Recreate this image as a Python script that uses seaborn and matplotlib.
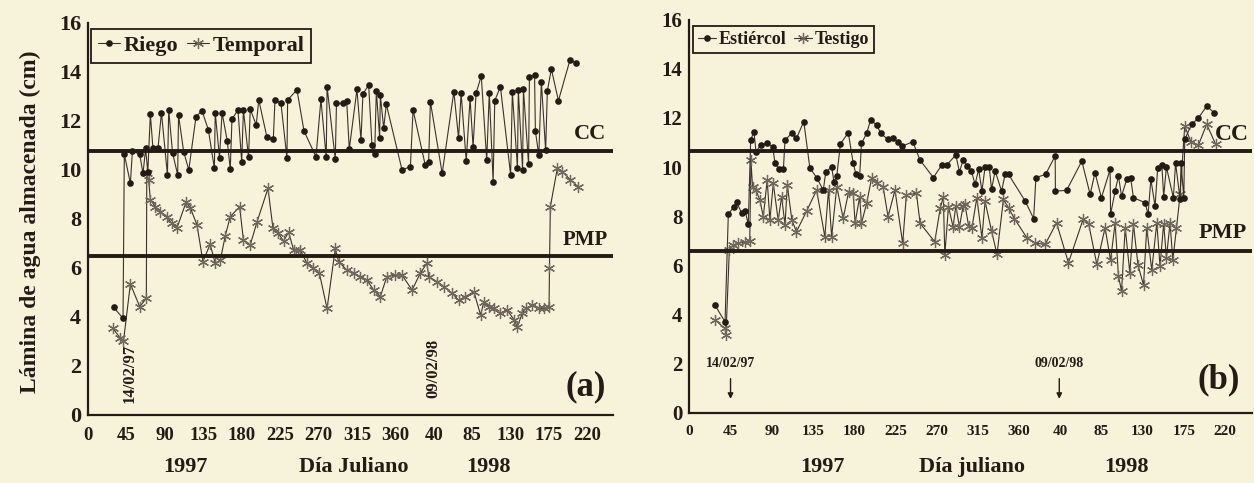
import matplotlib
matplotlib.use("Agg")
import matplotlib.pyplot as plt
import pandas as pd
import seaborn as sns

# ---------------- data ----------------
riego_dia = [30, 41, 42.5, 49.6, 52, 60.5, 64.4, 67.5, 70, 73, 76, 82, 86, 93, 94.5, 99, 105, 106,
             112, 118, 126.5, 133.5, 141, 148, 149, 154, 157, 163, 166.6, 168.6, 175.6, 180, 182,
             188, 190, 197, 200, 209.6, 217, 219, 226, 233, 233.8, 244.7, 253, 267, 272.8, 279,
             280, 289.6, 291, 299, 303, 306, 315, 319.7, 322, 328.7, 332.6, 335.7, 337.7, 341.6,
             342.4, 346.3, 349.4, 367.8, 377.6, 380.7, 395, 399, 401, 414.8, 428.5, 434, 437,
             443, 447.5, 451, 454.5, 460.6, 467, 470, 474.5, 476.4, 483, 495, 497, 503, 504, 509,
             510, 516, 517, 523, 524, 528, 531, 536, 538, 542.7, 551, 564.6, 572]
riego_val = [4.39, 3.95, 10.64, 9.46, 10.78, 10.64, 9.86, 10.88, 9.9, 12.27, 10.9, 10.9, 12.34,
             9.8, 12.45, 10.7, 9.8, 12.24, 10.75, 10.0, 12.18, 12.42, 11.63, 10.07, 12.34, 10.5,
             12.34, 11.2, 10.04, 12.07, 12.45, 10.34, 12.45, 10.52, 12.48, 11.84, 12.86, 11.33,
             11.25, 12.86, 12.72, 10.48, 12.86, 13.27, 11.59, 10.54, 12.88, 10.52, 13.4, 10.44,
             12.72, 12.72, 12.8, 10.85, 13.29, 11.22, 13.1, 13.47, 11.0, 10.64, 13.24, 11.3, 13.06,
             11.7, 12.68, 10.0, 10.14, 12.45, 10.2, 10.34, 12.79, 9.86, 13.2, 11.3, 13.13, 10.37,
             12.93, 10.95, 13.13, 13.84, 10.4, 13.16, 9.52, 12.83, 13.4, 9.8, 13.17, 10.07, 13.27,
             10.0, 13.29, 10.23, 13.78, 13.88, 11.59, 10.6, 13.6, 10.8, 13.22, 14.12, 12.83, 14.5,
             14.35]

temporal_dia = [29, 38, 41.5, 49.6, 60.5, 68.3, 68.8, 71, 73, 79, 84.7, 92.5, 98, 104, 115, 120,
                127.6, 134.6, 143, 149, 155, 160.8, 166.6, 177.6, 182, 190, 198, 210.8, 216.6, 223,
                229, 235, 240.8, 248.6, 256.4, 264, 271, 280, 289.6, 293.5, 303, 311, 319, 326.7,
                334.6, 342.4, 350, 360, 367.8, 379.6, 389, 397, 399, 409, 416.7, 426.5, 434, 442,
                452, 459.8, 463.7, 469.5, 475.4, 482.4, 491, 499, 502.8, 508.7, 512.6, 520.4, 528,
                534, 540, 540.5, 541.5, 549.7, 555.6, 565, 574]
temporal_val = [3.54, 3.13, 3.0, 5.35, 4.42, 4.76, 9.86, 9.6, 8.78, 8.5, 8.3, 8.1, 7.82, 7.62, 8.7,
                8.44, 7.76, 6.26, 6.97, 6.19, 6.33, 7.32, 8.1, 8.5, 7.14, 6.94, 7.89, 9.25, 7.62,
                7.41, 7.1, 7.46, 6.73, 6.73, 6.19, 5.99, 5.78, 4.35, 6.8, 6.26, 5.92, 5.78, 5.65,
                5.51, 5.1, 4.83, 5.65, 5.71, 5.71, 5.1, 5.78, 6.19, 5.65, 5.44, 5.24, 4.97, 4.69,
                4.83, 5.03, 4.08, 4.63, 4.42, 4.35, 4.15, 4.29, 3.88, 3.6, 4.15, 4.35, 4.49, 4.35,
                4.35, 4.42, 6.0, 8.5, 10.07, 9.93, 9.6, 9.32]

estiercol_dia = [28, 39, 42.6, 49, 51.7, 57, 61, 64.4, 67, 70.6, 72.8, 78, 85, 91, 93.5, 98,
                 102.7, 104.5, 111.8, 117, 125, 131.6, 139, 146.3, 149, 155.4, 158, 161, 165,
                 173.6, 179, 182, 186, 188, 193.6, 198, 204.6, 209, 216.6, 222.8, 228, 232.6, 244,
                 252, 266.5, 275.6, 281, 291, 295, 299, 303, 308, 312, 316, 319.5, 323, 327.5, 330,
                 334, 341, 345, 348.6, 367, 376, 378.5, 389, 399.5, 399.8, 412, 428.6, 437.7, 443,
                 450, 459.5, 460, 465, 468.6, 472, 477.7, 482, 485, 497.7, 501, 504, 508.6, 511.5,
                 516, 518, 521, 528.6, 531, 535.9, 537, 540, 541, 548.6, 556, 565, 573.4]
estiercol_val = [4.38, 3.7, 8.09, 8.39, 8.56, 8.14, 8.2, 7.67, 11.1, 11.44, 10.62, 10.9, 10.96,
                 10.83, 10.18, 9.9, 9.9, 11.1, 11.37, 11.17, 11.85, 9.97, 9.57, 9.06, 9.8, 10.0,
                 9.4, 9.63, 10.94, 11.4, 10.15, 9.7, 9.63, 10.96, 11.37, 11.91, 11.71, 11.37,
                 11.13, 11.19, 11.0, 10.85, 11.03, 10.28, 9.57, 10.08, 10.08, 10.49, 9.81, 10.28,
                 10.04, 9.84, 9.3, 9.9, 9.02, 10.0, 10.0, 9.1, 9.84, 9.02, 9.73, 9.7, 8.6, 7.9,
                 9.57, 9.7, 10.45, 9.02, 9.05, 10.24, 8.89, 9.77, 8.75, 9.9, 8.07, 9.02, 9.63,
                 8.82, 9.5, 9.54, 8.75, 8.55, 8.07, 9.5, 8.41, 9.97, 10.1, 8.8, 10.0, 8.75, 10.17,
                 8.68, 10.17, 8.75, 11.13, 11.74, 12.0, 12.48, 12.2]

testigo_dia = [28, 39, 40, 43.7, 48, 53.5, 61, 66, 67.3, 69, 72.8, 77, 80.8, 85, 88, 91.7, 97,
               100.8, 104.5, 107, 112, 117, 128, 139, 148, 152, 155.4, 161, 168, 174, 179, 181,
               186, 188, 193.6, 199, 204.6, 211.6, 217, 224.6, 233, 237, 248, 252, 268, 274,
               277.4, 279, 283, 288, 291, 295, 299, 301, 305, 308.6, 314, 319.5, 323, 330, 336,
               343, 348.6, 355, 368.6, 378, 388.6, 401, 414, 430, 436, 445, 454, 460, 465, 468.6,
               472, 476, 481, 485, 490, 496, 499.5, 505, 510.5, 514, 518, 521, 525, 528, 532,
               536, 541, 548, 556, 565, 574.8]
testigo_val = [3.77, 3.43, 3.16, 6.62, 6.82, 6.89, 6.96, 7.0, 10.28, 9.2, 9.06, 8.66, 7.98, 9.47,
               7.84, 9.33, 7.84, 8.79, 7.64, 9.27, 7.84, 7.37, 8.2, 9.06, 7.16, 9.06, 7.16, 9.2,
               7.91, 9.0, 8.93, 7.71, 8.79, 7.71, 8.52, 9.54, 9.33, 9.2, 7.98, 9.06, 6.89, 8.86,
               8.93, 7.71, 6.96, 8.32, 8.79, 6.42, 8.39, 7.57, 8.4, 7.57, 8.41, 8.48, 7.6, 7.53,
               8.75, 7.12, 8.6, 7.4, 6.45, 8.68, 8.34, 7.9, 7.12, 6.9, 6.85, 7.73, 6.1, 7.87, 7.7,
               6.04, 7.53, 6.2, 7.73, 5.56, 4.95, 7.53, 5.7, 7.67, 6.0, 5.2, 7.53, 5.8, 7.73, 5.97,
               7.7, 6.31, 7.73, 6.2, 7.53, 8.89, 11.67, 11.0, 10.9, 11.74, 10.92]

cc_pmp_a = [10.78, 6.47]
cc_pmp_b = [10.65, 6.58]

tick_pos = [0, 45, 90, 135, 180, 225, 270, 315, 360, 405, 450, 495, 540, 585]
tick_lab = ["0", "45", "90", "135", "180", "225", "270", "315", "360", "40", "85", "130", "175", "220"]
y_ticks = [0, 2, 4, 6, 8, 10, 12, 14, 16]

# ---------------- style ----------------
BG = "#f7f2da"
INK = "#241b15"
LINE = "#3b312a"
STAR = "#70665c"

sns.set_theme(style="white")
plt.rcParams["font.family"] = ["Liberation Serif", "DejaVu Serif"]
plt.rcParams["font.weight"] = "bold"
plt.rcParams["axes.labelweight"] = "bold"

fig = plt.figure(figsize=(12.54, 4.83), dpi=100, facecolor=BG)
axa = fig.add_axes([0.0702, 0.1408, 0.4187, 0.8116])
axb = fig.add_axes([0.5497, 0.1455, 0.4491, 0.8139])

star = (6, 2, 0)


def draw(ax, d1, v1, n1, d2, v2, n2, ccpmp, xfs, yfs, legfs):
    ax.set_facecolor(BG)
    df1 = pd.DataFrame({"dia": d1, "val": v1})
    df2 = pd.DataFrame({"dia": d2, "val": v2})
    sns.lineplot(data=df2, x="dia", y="val", ax=ax, sort=False, estimator=None,
                 color=LINE, lw=0.8, marker=star, markersize=8, markeredgewidth=0.9,
                 markeredgecolor=STAR, label=n2, zorder=3)
    sns.lineplot(data=df1, x="dia", y="val", ax=ax, sort=False, estimator=None,
                 color=LINE, lw=0.8, marker="o", markersize=4.8, markeredgewidth=0,
                 markerfacecolor=INK, label=n1, zorder=4)
    for yv in ccpmp:
        ax.axhline(yv, color=INK, lw=2.8, zorder=5)
    ax.set_xlim(0, 615)
    ax.set_ylim(0, 16)
    ax.set_xticks(tick_pos)
    ax.set_xticklabels(tick_lab, fontsize=xfs, fontweight="bold")
    ax.set_yticks(y_ticks)
    ax.set_yticklabels([str(t) for t in y_ticks], fontsize=yfs, fontweight="bold")
    ax.tick_params(axis="both", direction="in", length=6, width=1.1, color=INK,
                   labelcolor=INK)
    ax.tick_params(axis="x", pad=9)
    ax.tick_params(axis="y", pad=5)
    for s in ["top", "right"]:
        ax.spines[s].set_visible(False)
    for s in ["left", "bottom"]:
        ax.spines[s].set_color(INK)
        ax.spines[s].set_linewidth(1.6)
    ax.set_xlabel("")
    ax.set_ylabel("")
    h, l = ax.get_legend_handles_labels()
    order = [l.index(n1), l.index(n2)]
    leg = ax.legend([h[i] for i in order], [l[i] for i in order], ncol=2, loc="upper left",
                    bbox_to_anchor=(0.006, 0.985), borderaxespad=0, frameon=True,
                    fancybox=False, edgecolor=INK, facecolor=BG, framealpha=1,
                    handlelength=1.0, handletextpad=0.15, columnspacing=0.4,
                    borderpad=0.3, prop={"size": legfs, "weight": "bold"})
    leg.get_frame().set_linewidth(1.3)
    for t in leg.get_texts():
        t.set_color(INK)


draw(axa, riego_dia, riego_val, "Riego", temporal_dia, temporal_val, "Temporal",
     cc_pmp_a, 13.5, 16, 16)
draw(axb, estiercol_dia, estiercol_val, "Estiércol", testigo_dia, testigo_val, "Testigo",
     cc_pmp_b, 11, 15, 13)

# ---- panel (a) annotations ----
axa.text(588, 11.47, "CC", ha="center", va="center", fontsize=16, color=INK, weight="bold")
axa.text(582, 7.14, "PMP", ha="center", va="center", fontsize=15, color=INK, weight="bold")
axa.text(583, 1.15, "(a)", ha="center", va="center", fontsize=25, color=INK, weight="bold")
axa.text(49, 1.7, "14/02/97", rotation=90, ha="center", va="center", fontsize=12,
         color=INK, weight="bold")
axa.text(404, 1.9, "09/02/98", rotation=90, ha="center", va="center", fontsize=12,
         color=INK, weight="bold")

# ---- panel (b) annotations ----
axb.text(593, 11.33, "CC", ha="center", va="center", fontsize=17, color=INK, weight="bold")
axb.text(583, 7.33, "PMP", ha="center", va="center", fontsize=16, color=INK, weight="bold")
axb.text(578, 1.35, "(b)", ha="center", va="center", fontsize=25, color=INK, weight="bold")
for xd, lab in [(45, "14/02/97"), (404, "09/02/98")]:
    axb.text(xd, 2.0, lab, ha="center", va="center", fontsize=10, color=INK, weight="bold")
    axb.annotate("", xy=(xd, 0.45), xytext=(xd, 1.5),
                 arrowprops=dict(arrowstyle="-|>", color=INK, lw=1, mutation_scale=8))

# ---- shared labels ----
fig.text(0.024, 0.54, "Lámina de agua almacenada (cm)", rotation=90, ha="center",
         va="center", fontsize=17, color=INK, weight="bold")
for xp, s in [(185, "1997"), (354, "Día Juliano"), (489, "1998"),
              (822, "1997"), (972, "Día juliano"), (1127, "1998")]:
    fig.text(xp / 1254, 1 - 467 / 483, s, ha="center", va="center", fontsize=16,
             color=INK, weight="bold")

fig.savefig("out.png", dpi=100, facecolor=BG)
